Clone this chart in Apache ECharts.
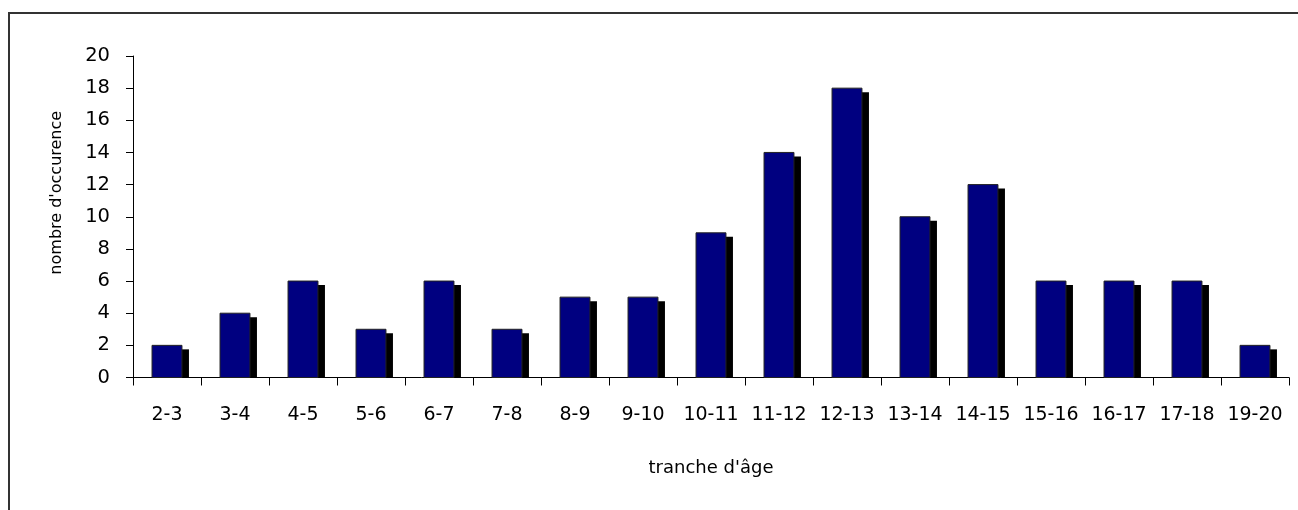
<!DOCTYPE html>
<html>
<head>
<meta charset="utf-8">
<script src="https://cdn.jsdelivr.net/npm/echarts@6/dist/echarts.min.js"></script>
<style>
html,body{margin:0;padding:0;background:#fff;}
#c{width:1298px;height:510px;}
</style>
</head>
<body>
<div id="c"></div>
<script>
const categories = ['2-3','3-4','4-5','5-6','6-7','7-8','8-9','9-10','10-11','11-12','12-13','13-14','14-15','15-16','16-17','17-18','19-20'];
const counts = [2,4,6,3,6,3,5,5,9,14,18,10,12,6,6,6,2];
const yTicks = {min:0, max:20, interval:2};
const xTitle = "tranche d'âge";
const yTitle = "nombre d'occurence";

const FONT = 'DejaVu Sans';
const chart = echarts.init(document.getElementById('c'), null, {renderer:'canvas'});
chart.setOption({
  animation:false,
  backgroundColor:'#fff',
  graphic:[{
    type:'rect', z:-10, silent:true,
    shape:{x:9, y:13, width:1400, height:600},
    style:{fill:'none', stroke:'#333', lineWidth:2}
  }],
  grid:{left:133, right:9, top:56, bottom:132.5, containLabel:false},
  xAxis:{
    type:'category', data:categories, boundaryGap:true,
    name:xTitle, nameLocation:'middle', nameGap:82,
    nameTextStyle:{fontFamily:FONT, fontSize:18, color:'#000'},
    axisLine:{lineStyle:{color:'#000', width:1}},
    axisTick:{show:true, inside:false, length:8, alignWithLabel:false, interval:0, lineStyle:{color:'#000'}},
    axisLabel:{interval:0, margin:28, fontFamily:FONT, fontSize:19, color:'#000'},
    splitLine:{show:false}
  },
  yAxis:{
    type:'value', min:yTicks.min, max:yTicks.max, interval:yTicks.interval,
    name:yTitle, nameLocation:'middle', nameGap:68, nameRotate:90,
    nameTextStyle:{fontFamily:FONT, fontSize:16, color:'#000', padding:[0,0,0,48]},
    axisLine:{show:true, lineStyle:{color:'#000', width:1}},
    axisTick:{show:true, inside:false, length:7, lineStyle:{color:'#000'}},
    axisLabel:{margin:23, fontFamily:FONT, fontSize:19.5, color:'#000'},
    splitLine:{show:false}
  },
  series:[{
    type:'custom',
    data:counts.map((v,i)=>[i,v]),
    encode:{x:0, y:1},
    renderItem:function(params, api){
      const p = api.coord([api.value(0), api.value(1)]);
      const base = api.coord([api.value(0), 0]);
      const w = api.size([1,0])[0]*0.44;
      const h = base[1]-p[1];
      return {
        type:'group',
        children:[
          {type:'rect', shape:{x:p[0]-w/2+7, y:p[1]+4, width:w, height:Math.max(0,h-4)}, style:{fill:'#000'}},
          {type:'rect', shape:{x:p[0]-w/2, y:p[1], width:w, height:h}, style:{fill:'#000080', stroke:'#222', lineWidth:1}}
        ]
      };
    }
  }]
});
</script>
</body>
</html>
